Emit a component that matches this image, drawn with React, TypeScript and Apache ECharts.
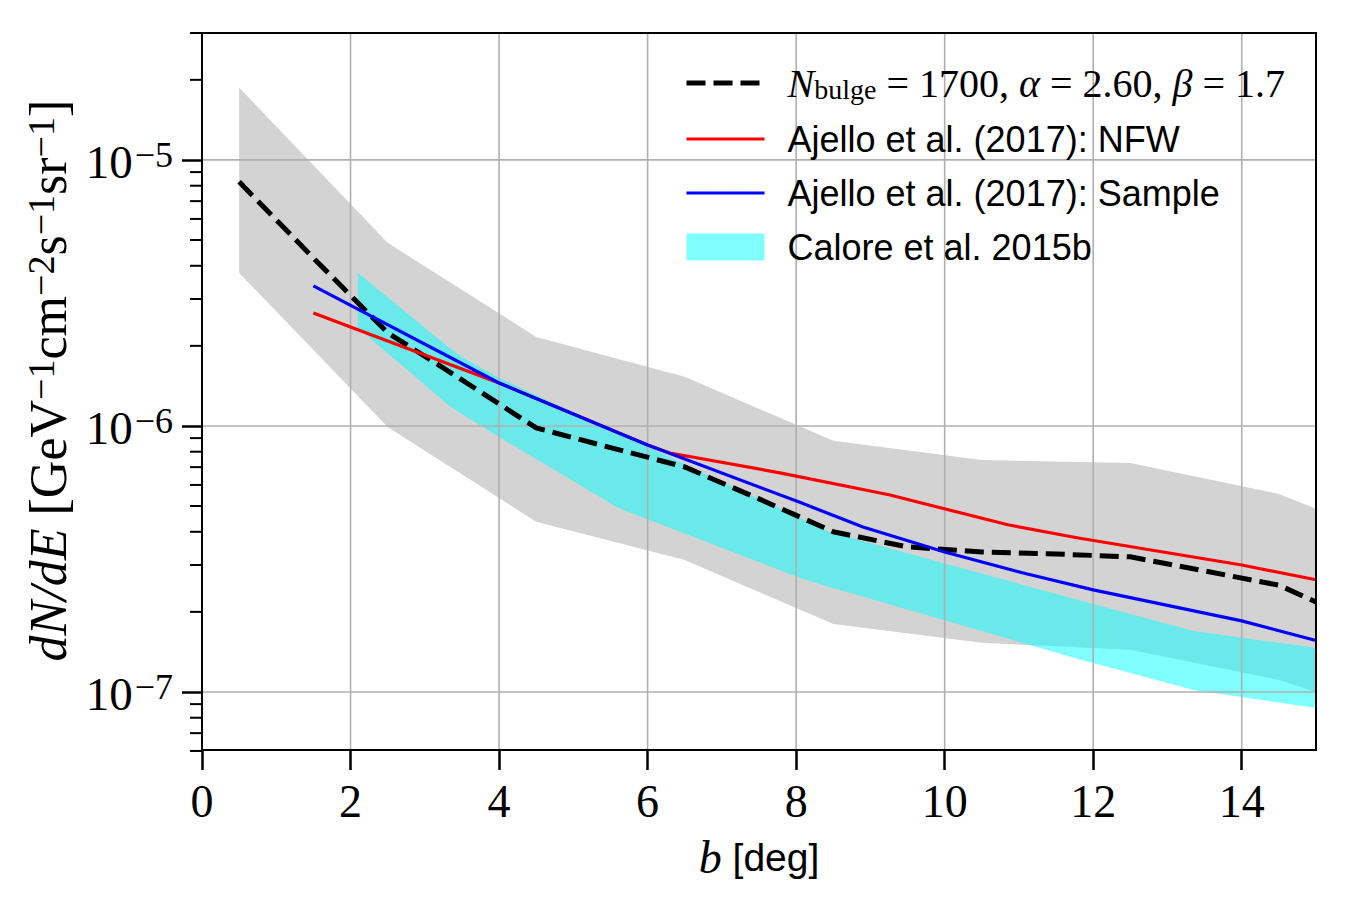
import React, { useEffect, useRef } from "react";
import * as echarts from "echarts";

// Values are plotted as log10(v) + OFFSET so the y axis is a plain linear axis.
const OFFSET = 8;
const lg = (v: number) => Math.log10(v) + OFFSET;

const Y_MIN = 6.05e-8;
const Y_MAX = 3.0e-5;
const X_MIN = 0;
const X_MAX = 15;
const X_TICKS = [0, 2, 4, 6, 8, 10, 12, 14];
const Y_DECADES = [1e-7, 1e-6, 1e-5];
const Y_MINOR = [
  6e-8, 7e-8, 8e-8, 9e-8,
  2e-7, 3e-7, 4e-7, 5e-7, 6e-7, 7e-7, 8e-7, 9e-7,
  2e-6, 3e-6, 4e-6, 5e-6, 6e-6, 7e-6, 8e-6, 9e-6,
  2e-5, 3e-5,
];

const MODEL_NAME = "N_bulge = 1700, α = 2.60, β = 1.7";
const NFW_NAME = "Ajello et al. (2017): NFW";
const SAMPLE_NAME = "Ajello et al. (2017): Sample";
const CALORE_NAME = "Calore et al. 2015b";

// bulge model (dashed)
const modelB = [0.5, 1.5, 2.5, 3.5, 4.5, 5.5, 6.5, 7.5, 8.5, 9.5, 10.5, 11.5, 12.5, 13.5, 14.5, 15.0];
const modelVal = [
  8.27e-6, 4.28e-6, 2.24e-6, 1.49e-6, 9.83e-7, 8.29e-7, 7.01e-7, 5.32e-7,
  4.0e-7, 3.51e-7, 3.36e-7, 3.3e-7, 3.22e-7, 2.85e-7, 2.52e-7, 2.18e-7,
];

// model uncertainty band (grey)
const bandB = [0.5, 2.5, 4.5, 6.5, 8.5, 10.5, 12.5, 14.5, 15.0];
const bandUpper = [1.87e-5, 4.88e-6, 2.16e-6, 1.53e-6, 8.79e-7, 7.45e-7, 7.26e-7, 5.55e-7, 4.88e-7];
const bandLower = [3.76e-6, 9.91e-7, 4.36e-7, 3.13e-7, 1.8e-7, 1.53e-7, 1.44e-7, 1.11e-7, 1.0e-7];

// Ajello et al. (2017): NFW
const nfwB = [1.5, 4.0, 6.0, 6.3, 7.8, 9.25, 10.85, 11.8, 14.0, 15.0];
const nfwVal = [2.66e-6, 1.45e-6, 8.48e-7, 7.91e-7, 6.65e-7, 5.51e-7, 4.25e-7, 3.79e-7, 3.0e-7, 2.64e-7];

// Ajello et al. (2017): Sample
const sampleB = [1.5, 4.0, 6.0, 8.05, 8.9, 10.0, 11.1, 12.0, 14.0, 15.0];
const sampleVal = [3.36e-6, 1.45e-6, 8.48e-7, 5.16e-7, 4.17e-7, 3.36e-7, 2.78e-7, 2.42e-7, 1.85e-7, 1.56e-7];

// Calore et al. 2015b band (cyan)
const caloreB = [2.1, 3.35, 3.5, 4.0, 5.6, 8.05, 8.45, 11.8, 13.35, 15.0];
const caloreUpper = [3.76e-6, 1.948e-6, 1.817e-6, 1.515e-6, 9.41e-7, 4.51e-7, 3.995e-7, 2.217e-7, 1.695e-7, 1.463e-7];
const caloreLower = [2.335e-6, 1.179e-6, 1.109e-6, 9.09e-7, 4.92e-7, 2.683e-7, 2.481e-7, 1.331e-7, 1.017e-7, 8.71e-8];

const SERIF = "'Liberation Serif', 'DejaVu Serif', serif";
const SANS = "'Liberation Sans', 'DejaVu Sans', sans-serif";

const pts = (xs: number[], vs: number[]) => xs.map((x, i) => [x, lg(vs[i])]);

function bandSeries(name: string | undefined, xs: number[], lo: number[], hi: number[], color: string, z: number) {
  return {
    type: "custom",
    name,
    z,
    silent: true,
    clip: true,
    itemStyle: { color },
    data: [[xs[0], lg(hi[0])]],
    renderItem: (_p: any, api: any) => {
      const upper = xs.map((x, i) => api.coord([x, lg(hi[i])]));
      const lower = xs.map((x, i) => api.coord([x, lg(lo[i])])).reverse();
      return {
        type: "polygon",
        shape: { points: upper.concat(lower) },
        style: { fill: color, stroke: "none" },
      };
    },
  };
}

function lineSeries(name: string, xs: number[], vs: number[], color: string, width: number, type: any, z: number) {
  return {
    type: "line",
    name,
    z,
    data: pts(xs, vs),
    symbol: "none",
    showSymbol: false,
    silent: true,
    lineStyle: { color, width, type, cap: "butt", join: "miter" },
    itemStyle: { color },
  };
}

const DASH = [19, 8];

function buildOption() {
  const yMinL = lg(Y_MIN);
  const yMaxL = lg(Y_MAX);
  return {
    animation: false,
    backgroundColor: "#ffffff",
    grid: {
      left: 202,
      right: 34,
      top: 33,
      bottom: 150,
      show: true,
      borderColor: "#000",
      borderWidth: 2,
      backgroundColor: "transparent",
      z: 6,
    },
    xAxis: {
      type: "value",
      min: X_MIN,
      max: X_MAX,
      name: "{bi|b}{r| [deg]}",
      nameLocation: "middle",
      nameGap: 84,
      nameTextStyle: {
        rich: {
          bi: { fontFamily: SERIF, fontStyle: "italic", fontSize: 46, color: "#000" },
          r: { fontFamily: SANS, fontSize: 39, color: "#000" },
        },
      },
      axisLine: { show: true, onZero: false, lineStyle: { color: "#000", width: 2 } },
      axisTick: {
        show: true,
        customValues: X_TICKS,
        length: 20,
        inside: false,
        lineStyle: { color: "#000", width: 2.5 },
      },
      axisLabel: {
        customValues: X_TICKS,
        margin: 28,
        fontFamily: SERIF,
        fontSize: 46,
        color: "#000",
      },
      splitLine: { show: false },
    },
    yAxis: {
      type: "value",
      min: yMinL,
      max: yMaxL,
      name:
        "{i|dN/dE}{r| [GeV}{s|−1}{r|cm}{s|−2}{r|s}{s|−1}{r|sr}{s|−1}{r|]}",
      nameLocation: "middle",
      nameRotate: 90,
      nameGap: 126,
      nameTextStyle: {
        padding: [0, 0, 0, 22],
        rich: {
          i: { fontFamily: SERIF, fontStyle: "italic", fontSize: 52, lineHeight: 54, color: "#000" },
          r: { fontFamily: SERIF, fontSize: 52, lineHeight: 54, color: "#000" },
          s: { fontFamily: SERIF, fontSize: 38, lineHeight: 28, verticalAlign: "top", color: "#000" },
        },
      },
      axisLine: { show: true, onZero: false, lineStyle: { color: "#000", width: 2 } },
      axisTick: {
        show: true,
        customValues: Y_DECADES.map(lg),
        length: 20,
        inside: false,
        lineStyle: { color: "#000", width: 2.5 },
      },
      axisLabel: {
        customValues: Y_DECADES.map(lg),
        margin: 29,
        formatter: (v: number) => `{m|10}{s|−${Math.abs(Math.round(v - OFFSET))}}`,
        rich: {
          m: { fontFamily: SERIF, fontSize: 47, lineHeight: 46, color: "#000", padding: [4, 2, 0, 0] },
          s: { fontFamily: SERIF, fontSize: 36, lineHeight: 24, verticalAlign: "top", color: "#000" },
        },
      },
      splitLine: { show: false },
    },
    legend: {
      orient: "vertical",
      left: 679,
      top: 58,
      itemWidth: 78,
      itemHeight: 27,
      itemGap: 18,
      selectedMode: false,
      data: [
        { name: MODEL_NAME, itemStyle: { opacity: 0 }, lineStyle: { width: 5, type: DASH, color: "#000" } },
        { name: NFW_NAME, itemStyle: { opacity: 0 }, lineStyle: { width: 3.2, color: "#ff0000" } },
        { name: SAMPLE_NAME, itemStyle: { opacity: 0 }, lineStyle: { width: 3.2, color: "#0000ff" } },
        { name: CALORE_NAME, icon: "rect", itemStyle: { color: "rgba(0,255,255,0.5)" } },
      ],
      formatter: (name: string) =>
        name === MODEL_NAME
          ? "{i|N}{sub|bulge}{m| = 1700, }{i|α}{m| = 2.60, }{i|β}{m| = 1.7}"
          : `{t|${name}}`,
      textStyle: {
        padding: [0, 0, 0, 18],
        rich: {
          t: { fontFamily: SANS, fontSize: 36, lineHeight: 40, color: "#000" },
          i: { fontFamily: SERIF, fontStyle: "italic", fontSize: 40, lineHeight: 40, color: "#000" },
          m: { fontFamily: SERIF, fontSize: 40, lineHeight: 40, color: "#000" },
          sub: { fontFamily: SERIF, fontSize: 28, lineHeight: 24, verticalAlign: "bottom", color: "#000" },
        },
      },
    },
    series: [
      bandSeries(undefined, bandB, bandLower, bandUpper, "#d3d3d3", 1),
      bandSeries(CALORE_NAME, caloreB, caloreLower, caloreUpper, "rgba(0,255,255,0.5)", 1),
      // grid lines, drawn above the bands and below the curves
      {
        type: "custom",
        z: 2,
        silent: true,
        data: X_TICKS.filter((x) => x > X_MIN).map((x) => [x, yMinL]),
        renderItem: (_p: any, api: any) => {
          const x = api.value(0);
          const a = api.coord([x, yMinL]);
          const b = api.coord([x, yMaxL]);
          return {
            type: "line",
            shape: { x1: a[0], y1: a[1], x2: b[0], y2: b[1] },
            style: { stroke: "#b0b0b0", lineWidth: 1.6 },
          };
        },
      },
      {
        type: "custom",
        z: 2,
        silent: true,
        data: Y_DECADES.map((v) => [X_MIN, lg(v)]),
        renderItem: (_p: any, api: any) => {
          const y = api.value(1);
          const a = api.coord([X_MIN, y]);
          const b = api.coord([X_MAX, y]);
          return {
            type: "line",
            shape: { x1: a[0], y1: a[1], x2: b[0], y2: b[1] },
            style: { stroke: "#b0b0b0", lineWidth: 1.6 },
          };
        },
      },
      // minor log ticks on the y axis
      {
        type: "custom",
        z: 6,
        silent: true,
        clip: false,
        data: Y_MINOR.map((v) => [X_MIN, lg(v)]),
        renderItem: (_p: any, api: any) => {
          const p = api.coord([X_MIN, api.value(1)]);
          return {
            type: "line",
            shape: { x1: p[0] - 12, y1: p[1], x2: p[0], y2: p[1] },
            style: { stroke: "#000", lineWidth: 2 },
          };
        },
      },
      lineSeries(MODEL_NAME, modelB, modelVal, "#000000", 5, DASH, 3),
      lineSeries(NFW_NAME, nfwB, nfwVal, "#ff0000", 3.2, "solid", 4),
      lineSeries(SAMPLE_NAME, sampleB, sampleVal, "#0000ff", 3.2, "solid", 5),
    ],
  };
}

export default function App() {
  const ref = useRef<HTMLDivElement>(null);
  useEffect(() => {
    if (!ref.current) return;
    const chart = echarts.init(ref.current, undefined, { renderer: "svg" });
    chart.setOption(buildOption() as any);
    return () => chart.dispose();
  }, []);
  return (
    <div
      ref={ref}
      style={{ position: "absolute", left: 0, top: 0, width: 1350, height: 900, background: "#fff" }}
    />
  );
}
